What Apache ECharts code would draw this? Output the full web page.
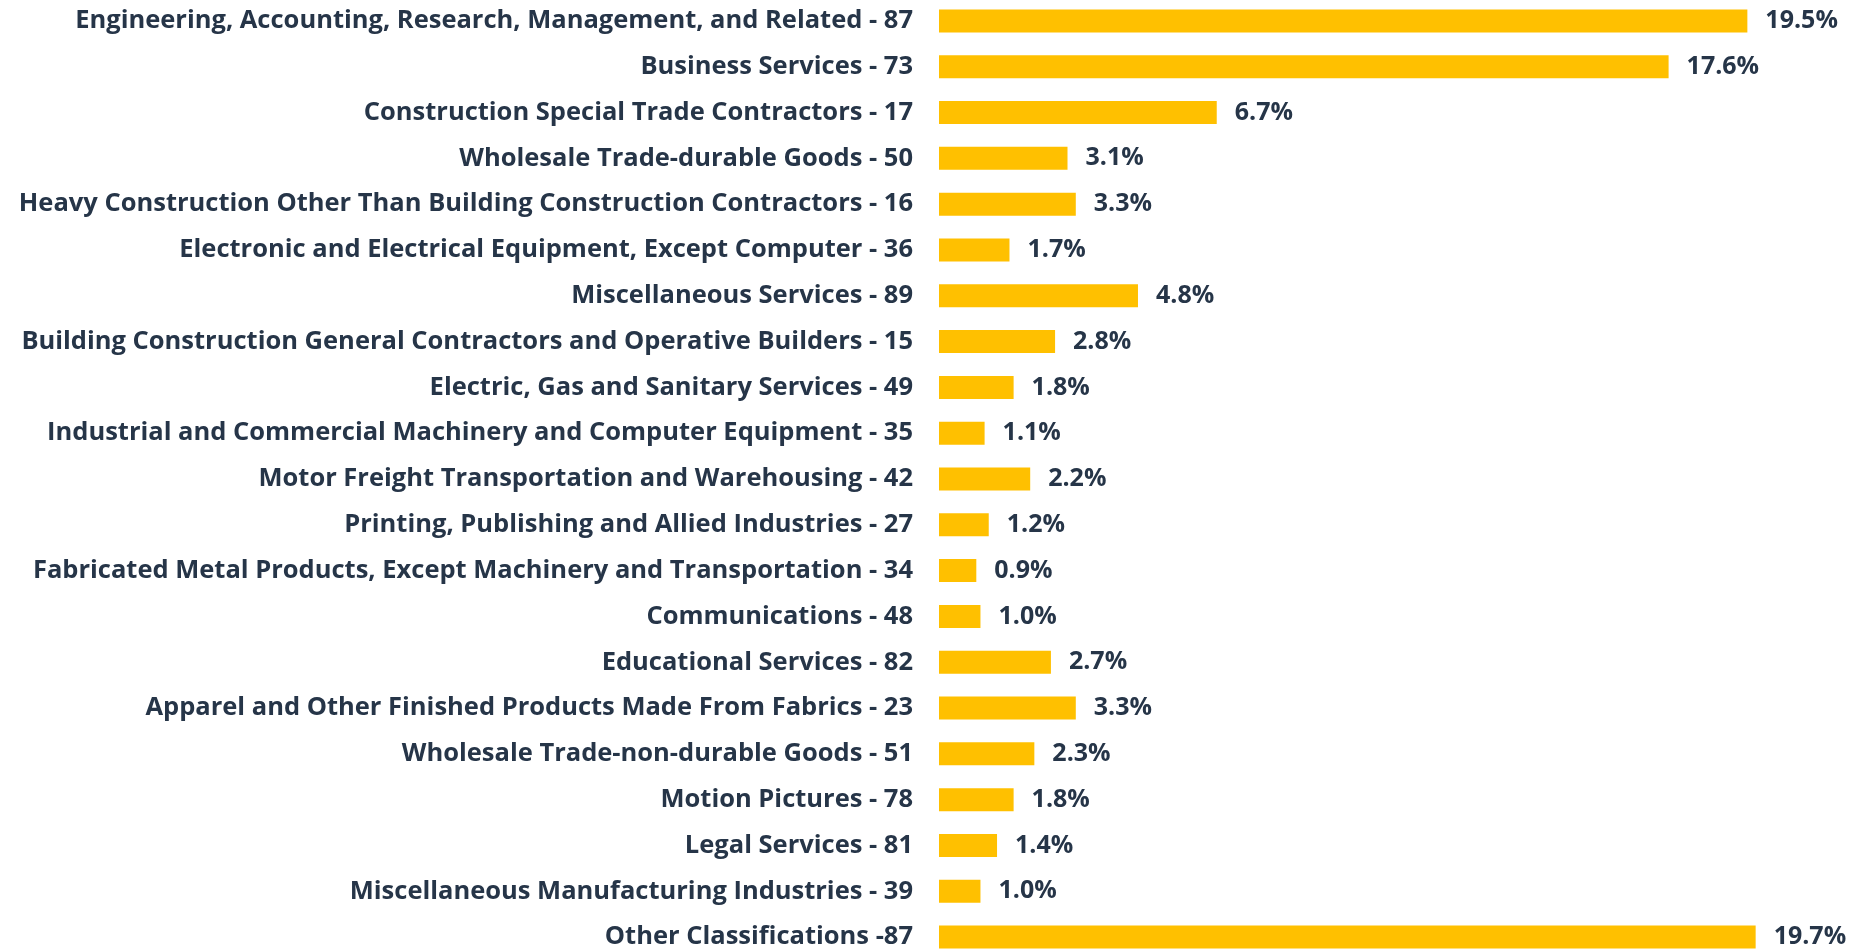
<!DOCTYPE html>
<html>
<head>
<meta charset="utf-8">
<script src="https://cdn.jsdelivr.net/npm/echarts@6/dist/echarts.min.js"></script>
<style>
  html, body { margin: 0; padding: 0; background: #fff; }
  #main { width: 1855px; height: 949px; }
</style>
</head>
<body>
<div id="main"></div>
<script>
var categories = [
    'Engineering, Accounting, Research, Management, and Related - 87',
    'Business Services - 73',
    'Construction Special Trade Contractors - 17',
    'Wholesale Trade-durable Goods - 50',
    'Heavy Construction Other Than Building Construction Contractors - 16',
    'Electronic and Electrical Equipment, Except Computer - 36',
    'Miscellaneous Services - 89',
    'Building Construction General Contractors and Operative Builders - 15',
    'Electric, Gas and Sanitary Services - 49',
    'Industrial and Commercial Machinery and Computer Equipment - 35',
    'Motor Freight Transportation and Warehousing - 42',
    'Printing, Publishing and Allied Industries - 27',
    'Fabricated Metal Products, Except Machinery and Transportation - 34',
    'Communications - 48',
    'Educational Services - 82',
    'Apparel and Other Finished Products Made From Fabrics - 23',
    'Wholesale Trade-non-durable Goods - 51',
    'Motion Pictures - 78',
    'Legal Services - 81',
    'Miscellaneous Manufacturing Industries - 39',
    'Other Classifications -87'
];
var shares = [19.5, 17.6, 6.7, 3.1, 3.3, 1.7, 4.8, 2.8, 1.8, 1.1, 2.2, 1.2, 0.9, 1.0, 2.7, 3.3, 2.3, 1.8, 1.4, 1.0, 19.7];

var textColor = '#263548';
var myChart = echarts.init(document.getElementById('main'));
myChart.setOption({
    animation: false,
    grid: {
        left: 939,
        right: 4,
        top: -2,
        height: 962,
        outerBoundsMode: 'none'
    },
    xAxis: {
        type: 'value',
        min: 0,
        max: 22,
        show: false
    },
    yAxis: {
        type: 'category',
        data: categories,
        inverse: true,
        axisLine: { show: false },
        axisTick: { show: false },
        axisLabel: {
            margin: 26,
            color: textColor,
            fontFamily: 'Open Sans',
            fontWeight: 'bold',
            fontSize: 25.5
        }
    },
    series: [{
        type: 'bar',
        data: shares,
        barWidth: 23,
        itemStyle: { color: '#FFC000' },
        label: {
            show: true,
            position: 'right',
            distance: 18,
            color: textColor,
            fontFamily: 'Open Sans',
            fontWeight: 'bold',
            fontSize: 25,
            formatter: function (p) { return p.value.toFixed(1) + '%'; }
        }
    }]
});
</script>
</body>
</html>
